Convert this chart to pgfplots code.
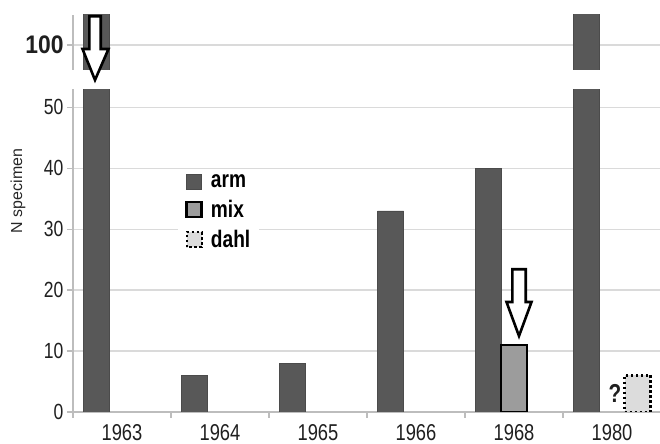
\documentclass[border=0pt]{standalone}
\usepackage{pgfplots}
\pgfplotsset{compat=1.18}
\usepackage{fontspec}
\setmainfont{Liberation Sans}[FakeStretch=0.8]
\newfontfamily\hundredfont{Liberation Sans}[FakeStretch=0.9]
\newfontfamily\plainfont{Liberation Sans}
\definecolor{armc}{HTML}{585858}
\definecolor{mixc}{HTML}{9C9C9C}
\definecolor{dahlc}{HTML}{DCDCDC}
\definecolor{gridc}{HTML}{DADADA}
\definecolor{axc}{HTML}{BDBDBD}
\pgfplotsset{
  sqlegend/.style={legend image code/.code={\draw[##1,bar shift=0pt] (0bp,-7.5bp) rectangle (15bp,7.5bp);}},
  armstyle/.style={fill=armc, draw=armc!85!black, line width=0.6bp, bar shift=-0.26, sqlegend},
  common/.style={scale only axis, width=588bp, xmin=-0.5, xmax=5.5,
    ybar, bar width=0.265,
    axis line style={axc, line width=1.3bp},
    tick align=outside, major tick length=6bp, tick style={axc, line width=1.3bp},
    ymajorgrids, grid style={gridc, line width=1.3bp},
    /pgf/number format/assume math mode=true},
}
\begin{document}
\begin{tikzpicture}
\useasboundingbox (0,0) rectangle (660bp,444bp);
% lower part, 0 to 53
\begin{axis}[common, at={(73bp,32bp)}, anchor=south west, height=323bp,
  ymin=0, ymax=53,
  axis x line*=bottom, axis y line*=left,
  xtick={-0.5,0.5,...,5.5}, x tick label as interval,
  xticklabels={1963,1964,1965,1966,1968,1980},
  ytick={0,10,...,50},
  yticklabel style={font=\fontsize{22}{22}\selectfont, text=black!88},
  xticklabel style={font=\fontsize{23}{23}\selectfont, text=black!88, yshift=-3bp},
  legend style={at={(0.179,0.749)}, anchor=north west, draw=none, fill=white,
    inner xsep=7bp, inner ysep=2bp, row sep=7.5bp,
    /tikz/every odd column/.append style={column sep=6bp},
    font=\fontsize{24}{24}\selectfont\bfseries, cells={anchor=west}},
]
\addplot[armstyle] coordinates {(0,150) (1,6) (2,8) (3,33) (4,40) (5,150)};
\addlegendentry{arm}
\addplot[fill=mixc, draw=black, line width=2.5bp, bar shift=0, sqlegend] coordinates {(4,11)};
\addlegendentry{mix}
\addplot[fill=dahlc, draw=black, line width=2.2bp, dash pattern=on 2.5bp off 2.5bp, bar shift=0.26, sqlegend] coordinates {(5,6)};
\addlegendentry{dahl}
\node[font=\fontsize{26}{26}\selectfont\bfseries, text=black!88] at (axis cs:5.03,3.1) {?};
\end{axis}
% upper part, around 100
\begin{axis}[common, at={(73bp,374bp)}, anchor=south west, height=55bp,
  ymin=95.9, ymax=104.9,
  axis x line=none, axis y line*=left,
  ytick={100}, yticklabels={\hundredfont\fontsize{25.5}{25.5}\selectfont\bfseries 100},
  ticklabel style={text=black!88},
]
\addplot[armstyle] coordinates {(0,150) (5,150)};
\end{axis}
% y label
\node[rotate=90, font=\plainfont\fontsize{16}{16}\selectfont, text=black!85] at (18bp,253bp) {N specimen};
% arrows
\draw[line width=2.6bp, fill=white, line join=miter]
  (89.3bp,427.7bp) -- (100.7bp,427.7bp) -- (100.7bp,395bp) -- (108.5bp,395bp)
  -- (95bp,364bp) -- (82.5bp,395bp) -- (89.3bp,395bp) -- cycle;
\draw[line width=2.6bp, fill=white, line join=miter]
  (512.3bp,174.7bp) -- (525.7bp,174.7bp) -- (525.7bp,142bp) -- (531.5bp,142bp)
  -- (519bp,108bp) -- (506.5bp,142bp) -- (512.3bp,142bp) -- cycle;
\end{tikzpicture}
\end{document}
